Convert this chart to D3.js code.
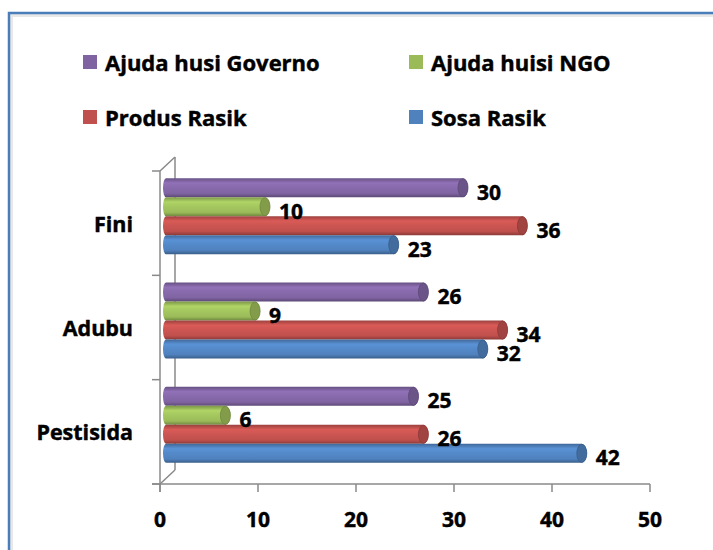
<!DOCTYPE html>
<html>
<head>
<meta charset="utf-8">
<script src="https://cdn.jsdelivr.net/npm/d3@7"></script>
<style>
  body { margin: 0; background: #fff; }
  svg text { font-family: "Open Sans", Lato, sans-serif; font-weight: 700; fill: #000; stroke: #000; stroke-width: 0.45; }
</style>
</head>
<body>
<svg id="chart" width="713" height="550"></svg>
<script>
// categories top to bottom
const categories = ["Fini", "Adubu", "Pestisida"];
// series in drawing order inside each group (top to bottom)
const seriesNames = ["Ajuda husi Governo", "Ajuda huisi NGO", "Produs Rasik", "Sosa Rasik"];
const governoValues = [30, 26, 25];
const ngoValues = [10, 9, 6];
const produsValues = [36, 34, 26];
const sosaValues = [23, 32, 42];
const xTicks = [0, 10, 20, 30, 40, 50];

const seriesColors = ["#8064a2", "#9bbb59", "#c0504d", "#4f81bd"];
const seriesValues = [governoValues, ngoValues, produsValues, sosaValues];

const svg = d3.select("#chart");
const defs = svg.append("defs");

// outer frame (blue border line at top and left)
svg.append("path")
  .attr("d", "M9,560 L9,13 L720,13")
  .attr("fill", "none")
  .attr("stroke", "#e8e8e8")
  .attr("stroke-width", 4)
  .attr("transform", "translate(2,2)");
svg.append("path")
  .attr("d", "M9,560 L9,13 L720,13")
  .attr("fill", "none")
  .attr("stroke", "#4a7ebb")
  .attr("stroke-width", 2.5);

// scales
const x = d3.scaleLinear().domain([0, 50]).range([160, 650]);
// bars sit in the middle of the 3d depth, slightly stretched
const xBar = d3.scaleLinear().domain([0, 50]).range([166, 661]);
const y = d3.scaleBand().domain(categories).range([171, 484]);
const depthX = 15, depthY = 14;
const axisColor = "#8a8a8a";

// walls (back lines behind the bars)
const g = svg.append("g");
g.append("line")
  .attr("x1", x(0) + depthX).attr("x2", x(0) + depthX)
  .attr("y1", 171 - depthY).attr("y2", 484 - depthY)
  .attr("stroke", axisColor).attr("stroke-width", 1.5);
g.append("path")
  .attr("d", `M${x(0)},171 L${x(0) + depthX},${171 - depthY} M${x(0)},484 L${x(0) + depthX},${484 - depthY}`)
  .attr("fill", "none").attr("stroke", axisColor).attr("stroke-width", 1.5);

// gradients for the cylinders
seriesColors.forEach((c, i) => {
  const base = d3.color(c);
  const grad = defs.append("linearGradient")
    .attr("id", "grad" + i)
    .attr("x1", 0).attr("y1", 0).attr("x2", 0).attr("y2", 1);
  grad.append("stop").attr("offset", "0%").attr("stop-color", base.darker(0.6));
  grad.append("stop").attr("offset", "25%").attr("stop-color", base.brighter(0.35));
  grad.append("stop").attr("offset", "45%").attr("stop-color", base.brighter(0.2));
  grad.append("stop").attr("offset", "80%").attr("stop-color", base);
  grad.append("stop").attr("offset", "100%").attr("stop-color", base.darker(0.9));
});

// bars
const barHeight = 19;
const capRx = 5;
const labels = [];
categories.forEach((cat, ci) => {
  const center = y(cat) + y.bandwidth() / 2 - 7;
  const inner = d3.scaleBand().domain(seriesNames)
    .range([center - 2 * barHeight, center + 2 * barHeight]);
  seriesNames.forEach((s, si) => {
    const v = seriesValues[si][ci];
    const y0 = inner(s), h = inner.bandwidth();
    const x0 = xBar(0), x1 = xBar(v);
    const ry = h / 2;
    const bar = g.append("g");
    bar.append("path")
      .attr("d", `M${x0},${y0} L${x1},${y0} A${capRx},${ry} 0 0 1 ${x1},${y0 + h} L${x0},${y0 + h} A3,${ry} 0 0 1 ${x0},${y0} Z`)
      .attr("fill", `url(#grad${si})`);
    bar.append("ellipse")
      .attr("cx", x1).attr("cy", y0 + ry)
      .attr("rx", capRx).attr("ry", ry - 0.5)
      .attr("fill", d3.color(seriesColors[si]).darker(0.5))
      .attr("stroke", d3.color(seriesColors[si]).darker(0.9))
      .attr("stroke-width", 0.8);
    labels.push({ v, x: x1 + capRx + 9, y: y0 + ry + 4 });
  });
});

// value labels drawn above all bars
g.selectAll(".vlabel").data(labels).join("text")
  .attr("x", d => d.x)
  .attr("y", d => d.y)
  .attr("dominant-baseline", "central")
  .attr("font-size", 21)
  .text(d => d.v);

// front axes
g.append("line")
  .attr("x1", x(0)).attr("x2", x(0))
  .attr("y1", 171).attr("y2", 492)
  .attr("stroke", axisColor).attr("stroke-width", 1.5);
g.append("line")
  .attr("x1", 152).attr("x2", x(50))
  .attr("y1", 484).attr("y2", 484)
  .attr("stroke", axisColor).attr("stroke-width", 1.5);
// category ticks (left)
const catEdges = categories.map(c => y(c)).concat([484]);
g.selectAll(".ytick").data(catEdges).join("line")
  .attr("x1", 152).attr("x2", x(0))
  .attr("y1", d => d).attr("y2", d => d)
  .attr("stroke", axisColor).attr("stroke-width", 1.5);
// value ticks (down)
g.selectAll(".xtick").data(xTicks).join("line")
  .attr("x1", d => x(d)).attr("x2", d => x(d))
  .attr("y1", 484).attr("y2", 492)
  .attr("stroke", axisColor).attr("stroke-width", 1.5);
g.selectAll(".xlabel").data(xTicks).join("text")
  .attr("x", d => x(d))
  .attr("y", 519)
  .attr("text-anchor", "middle")
  .attr("dominant-baseline", "central")
  .attr("font-size", 21)
  .text(d => d);
g.selectAll(".ylabel").data(categories).join("text")
  .attr("x", 133)
  .attr("y", d => y(d) + y.bandwidth() / 2)
  .attr("text-anchor", "end")
  .attr("dominant-baseline", "central")
  .attr("font-size", 21.5)
  .text(d => d);

// legend: two columns, two rows
const legendPos = [[83, 62], [409, 62], [83, 117], [409, 117]];
const legend = svg.append("g");
seriesNames.forEach((s, i) => {
  const [lx, ly] = legendPos[i];
  legend.append("rect")
    .attr("x", lx).attr("y", ly - 7)
    .attr("width", 14).attr("height", 14)
    .attr("fill", seriesColors[i]);
  legend.append("text")
    .attr("x", lx + 22).attr("y", ly)
    .attr("dominant-baseline", "central")
    .attr("font-size", 22)
    .text(s);
});
</script>
</body>
</html>
